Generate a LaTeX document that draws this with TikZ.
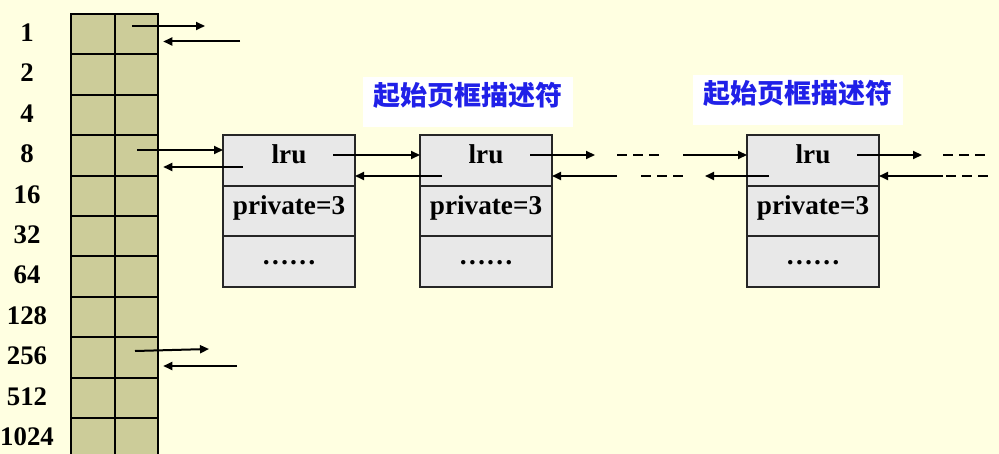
\documentclass[tikz,border=0pt]{standalone}
\usepackage{fontspec}
\setmainfont{Liberation Serif}
\newfontfamily\cjkfont{Noto Sans CJK SC}
\usetikzlibrary{arrows.meta, positioning, calc}
\definecolor{page-bg}{HTML}{FFFFE1}
\definecolor{slot-fill}{HTML}{CCCC99}
\definecolor{desc-fill}{HTML}{E8E8E8}
\definecolor{title-blue}{HTML}{2020E8}
\tikzset{
  slotcell/.style={
    draw=black, fill=slot-fill, line width=1pt, inner sep=0pt, outer sep=0pt,
    minimum width=21.75pt, minimum height=20.2pt
  },
  desccell/.style={
    draw=black!85, fill=desc-fill, line width=0.9pt, inner sep=0pt, outer sep=0pt,
    minimum width=66pt, minimum height=25.25pt,
    text height=7.5pt, text depth=4.5pt, font=\fontsize{13.6}{15}\selectfont\bfseries
  },
  sizelbl/.style={font=\fontsize{13.4}{15}\selectfont\bfseries},
  title/.style={
    fill=white, inner sep=0pt, minimum width=105pt, minimum height=25pt,
    text height=11pt, text depth=7.8pt, text=title-blue,
    font=\fontsize{13.5}{16}\selectfont\cjkfont\bfseries
  },
  link/.style={-{Triangle[length=4.5pt, width=4pt]}, line width=1pt},
  gap/.style={line width=1pt, dash pattern=on 5pt off 3pt}
}

\begin{document}
\begin{tikzpicture}[x=0.5pt, y=-0.5pt]

  % ---- page ----------------------------------------------------------------
  \fill[page-bg] (0,0) rectangle (999,454);
  \useasboundingbox (0,0) rectangle (999,454);

  % ---- free area table -----------------------------------------------------
  \foreach \size [count=\i] in {1,2,4,8,16,32,64,128,256,512,1024} {
    \node[slotcell] (key\i) at (93, {34.2+40.4*(\i-1)}) {};
    \node[slotcell, right=0pt of key\i] (ptr\i) {};
    \node[sizelbl] (size\i) at (27, {32.7+40.4*(\i-1)}) {\size};
  }

  % ---- page descriptors ----------------------------------------------------
  \foreach \n/\x in {1/289, 2/486, 3/813} {
    \node[desccell] (lru\n) at (\x, 160.5) {lru};
    \node[desccell, below=0pt of lru\n] (priv\n) {private=3};
    \node[desccell, below=0pt of priv\n] (more\n) {……};
  }

  % ---- titles --------------------------------------------------------------
  \node[title] (head1) at (468, 102) {起始页框描述符};
  \node[title] (head2) at (797.5, 100) {起始页框描述符};

  % ---- order 1 (empty list) ------------------------------------------------
  \coordinate (out1) at (205, 26);
  \coordinate (in1) at (240, 41.5);
  \draw[link] ($(ptr1.center)+(-4.5,-8.2)$) -- (out1);
  \draw[link] (in1) -- ($(ptr1.east |- in1)+(5,0)$);

  % ---- order 8 -> first descriptor -----------------------------------------
  \coordinate (s8) at ($(ptr4.center)+(0.5,-5.4)$);
  \coordinate (r8) at ($(lru1.west)+(20,6.5)$);
  \draw[link] (s8) -- (s8 -| lru1.west);
  \draw[link] (r8) -- ($(ptr4.east |- r8)+(5,0)$);

  % ---- descriptor 1 <-> descriptor 2 ---------------------------------------
  \coordinate (n1) at ($(lru1.center)+(44,-5.5)$);
  \coordinate (p2) at ($(lru2.west)+(22,15.5)$);
  \draw[link] (n1) -- (n1 -| lru2.west);
  \draw[link] (p2) -- (p2 -| lru1.east);

  % ---- descriptor 2 -> ... -------------------------------------------------
  \coordinate (n2) at ($(lru2.center)+(44,-5.5)$);
  \coordinate (out2) at (595, 155);
  \coordinate (in2) at (617, 176);
  \draw[link] (n2) -- (out2);
  \draw[link] (in2) -- (in2 -| lru2.east);
  \draw[gap] (617, 155) -- (660, 155);
  \draw[gap] (641, 176) -- (683, 176);

  % ---- ... -> descriptor 3 -------------------------------------------------
  \coordinate (in3) at (683, 155);
  \coordinate (p3) at ($(lru3.west)+(22,15.5)$);
  \coordinate (out3) at (705, 176);
  \draw[link] (in3) -- (in3 -| lru3.west);
  \draw[link] (p3) -- (out3);

  % ---- descriptor 3 -> ... -------------------------------------------------
  \coordinate (n3) at ($(lru3.center)+(44,-5.5)$);
  \coordinate (out4) at (922, 155);
  \coordinate (in4) at (943, 176);
  \draw[link] (n3) -- (out4);
  \draw[link] (in4) -- (in4 -| lru3.east);
  \draw[gap] (943, 155) -- (987, 155);
  \draw[gap] (946, 176) -- (988, 176);

  % ---- order 256 (empty list) ----------------------------------------------
  \coordinate (out9) at (209, 349);
  \coordinate (in9) at (237, 366);
  \draw[link] ($(ptr9.center)+(-1.5,-6.4)$) -- (out9);
  \draw[link] (in9) -- ($(ptr9.east |- in9)+(5,0)$);

\end{tikzpicture}
\end{document}
